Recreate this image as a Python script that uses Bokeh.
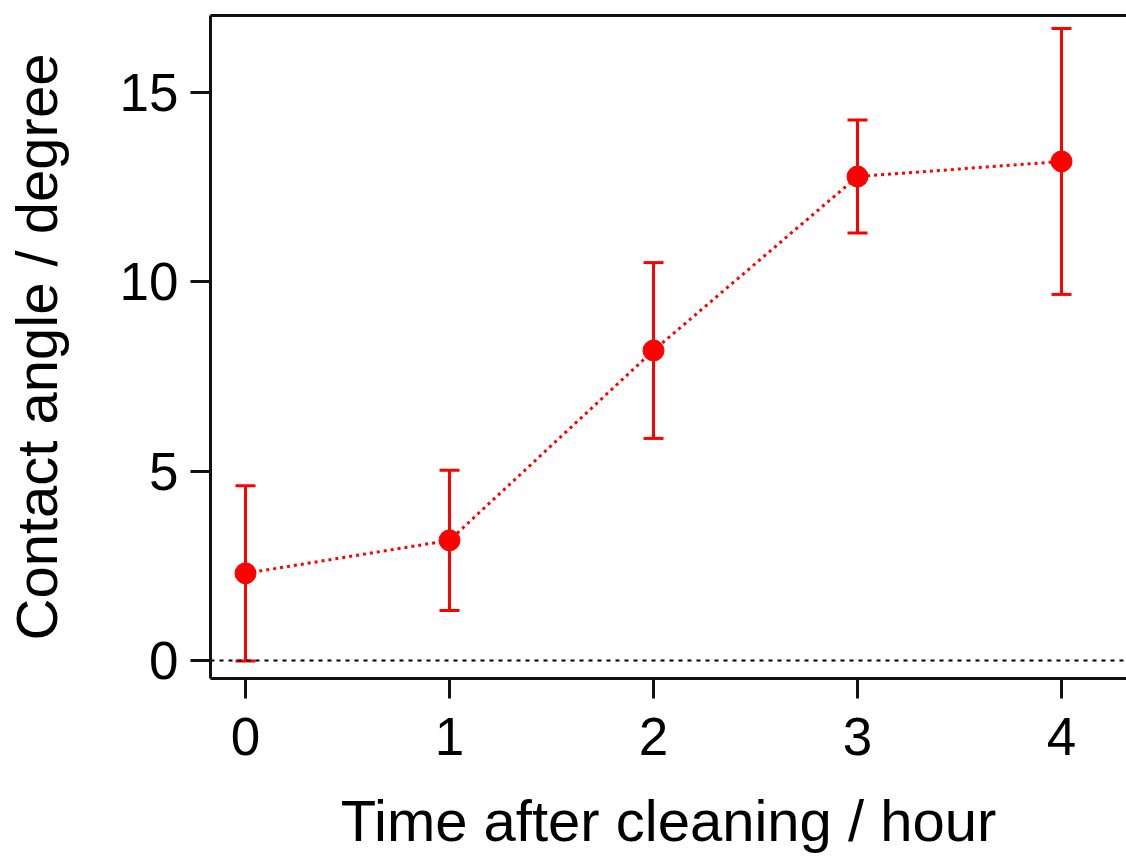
from bokeh.plotting import figure
from bokeh.models import Range1d, FixedTicker, LinearAxis, Span, Whisker, TeeHead, ColumnDataSource
from bokeh.embed import file_html
from bokeh.resources import INLINE

# Data
hours = [0, 1, 2, 3, 4]
angle = [2.30, 3.17, 8.18, 12.77, 13.17]
err = [2.31, 1.85, 2.32, 1.49, 3.51]
x_ticks = [0, 1, 2, 3, 4]
y_ticks = [0, 5, 10, 15]
x_title = "Time after cleaning / hour"
y_title = "Contact angle / degree"

lower = [a - e for a, e in zip(angle, err)]
upper = [a + e for a, e in zip(angle, err)]
src = ColumnDataSource(dict(x=hours, y=angle, lower=lower, upper=upper))

FONT = "Liberation Sans"
RED = "#ff0000"

p = figure(width=1126, height=857,
           x_range=Range1d(-0.1716, 4.3186), y_range=Range1d(-0.475, 17.02),
           output_backend="svg", toolbar_location=None,
           min_border_left=210, min_border_top=15, min_border_right=0, min_border_bottom=179)
p.outline_line_color = None
p.xgrid.visible = False
p.ygrid.visible = False
p.background_fill_color = "white"
p.border_fill_color = "white"

for ax in (p.xaxis[0], p.yaxis[0]):
    ax.axis_line_color = "#111111"
    ax.axis_line_width = 3
    ax.major_tick_line_color = "#111111"
    ax.major_tick_line_width = 3
    ax.major_tick_in = 0
    ax.major_tick_out = 20
    ax.minor_tick_line_color = None
    ax.major_label_text_font = FONT
    ax.major_label_text_font_size = "53px"
    ax.major_label_text_color = "black"
    ax.axis_label_text_font = FONT
    ax.axis_label_text_font_size = "58px"
    ax.axis_label_text_font_style = "normal"
    ax.axis_label_text_color = "black"

p.xaxis[0].ticker = FixedTicker(ticks=x_ticks)
p.yaxis[0].ticker = FixedTicker(ticks=y_ticks)
p.xaxis[0].axis_label = x_title
p.yaxis[0].axis_label = y_title
p.xaxis[0].major_label_standoff = 19
p.yaxis[0].major_label_standoff = 12
p.xaxis[0].axis_label_standoff = 30
p.yaxis[0].axis_label_standoff = 48

top = LinearAxis(ticker=FixedTicker(ticks=[]), axis_line_color="#111111", axis_line_width=3,
                 major_tick_line_color=None, minor_tick_line_color=None,
                 major_label_text_font_size="0px", major_tick_out=0, major_tick_in=0,
                 major_label_standoff=0)
p.add_layout(top, "above")

zero = Span(location=0, dimension="width", line_color="black", line_width=2, line_dash="4 5")
p.add_layout(zero)

p.line("x", "y", source=src, line_color=RED, line_width=3, line_dash="3 4")
w = Whisker(base="x", upper="upper", lower="lower", source=src,
            line_color=RED, line_width=3,
            upper_head=TeeHead(size=20, line_color=RED, line_width=3),
            lower_head=TeeHead(size=20, line_color=RED, line_width=3))
p.add_layout(w)
p.scatter("x", "y", source=src, size=21, fill_color=RED, line_color=RED)

open("out.html", "w").write(file_html(p, INLINE))
